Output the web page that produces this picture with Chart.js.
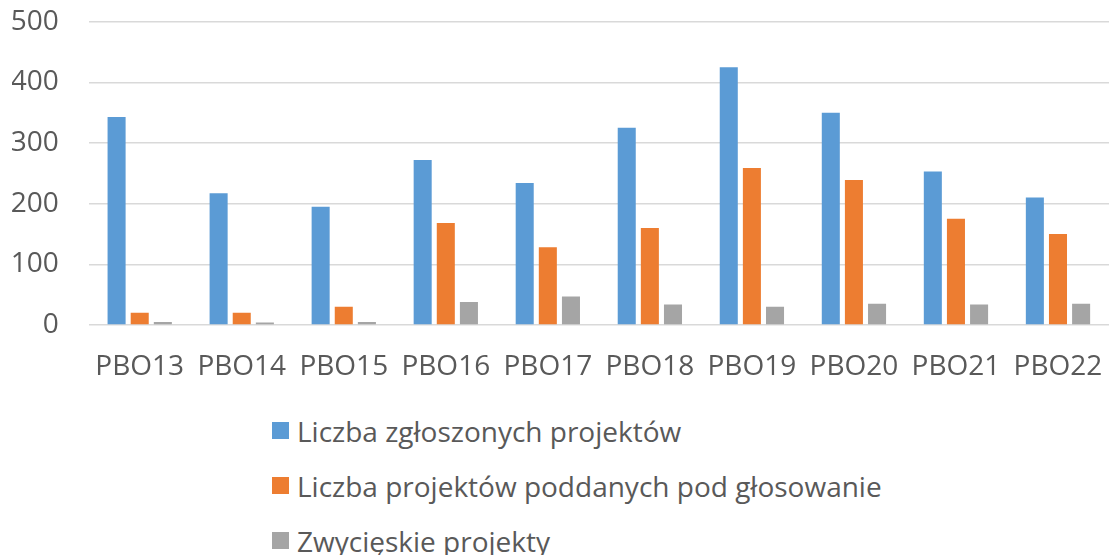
<!DOCTYPE html>
<html>
<head>
<meta charset="utf-8">
<script src="https://cdn.jsdelivr.net/npm/chart.js@4"></script>
<style>
    html, body { margin: 0; padding: 0; background: #ffffff; }
    #wrap { position: relative; width: 1109px; height: 555px; overflow: hidden; }
    #chart-box { position: absolute; left: 0; top: 0; width: 1109px; height: 385px; }
    #legend { position: absolute; left: 272px; top: 403px; font-family: "Open Sans", sans-serif; font-size: 28px; color: #595959; }
    #legend .item { display: flex; align-items: center; height: 55px; white-space: nowrap; }
    #legend .box { width: 17px; height: 17px; margin-right: 8px; }
</style>
</head>
<body>
<div id="wrap">
    <div id="chart-box"><canvas id="graph"></canvas></div>
    <div id="legend"></div>
</div>
<script>
// ========================== Data ==========================
const categories = ["PBO13", "PBO14", "PBO15", "PBO16", "PBO17", "PBO18", "PBO19", "PBO20", "PBO21", "PBO22"];
const submitted = [343, 217, 195, 272, 234, 325, 425, 350, 253, 210];
const putToVote = [20, 20, 30, 168, 128, 160, 259, 239, 175, 150];
const winners = [5, 4, 5, 38, 47, 34, 30, 35, 34, 35];
const seriesNames = ["Liczba zgłoszonych projektów", "Liczba projektów poddanych pod głosowanie", "Zwycięskie projekty"];
const seriesColors = ["#5b9bd5", "#ed7d31", "#a5a5a5"];

// ========================== Chart ==========================
const ctx = document.getElementById("graph").getContext("2d");
const tickFont = { family: "'Open Sans', sans-serif", size: 28 };

const chart = new Chart(ctx, {
    type: "bar",
    data: {
        labels: categories,
        datasets: [
            { label: seriesNames[0], data: submitted, backgroundColor: seriesColors[0] },
            { label: seriesNames[1], data: putToVote, backgroundColor: seriesColors[1] },
            { label: seriesNames[2], data: winners, backgroundColor: seriesColors[2] }
        ]
    },
    options: {
        responsive: true,
        maintainAspectRatio: false,
        animation: false,
        categoryPercentage: 0.68,
        barPercentage: 0.78,
        layout: { padding: { top: 0, left: 12, right: 0, bottom: 0 } },
        plugins: {
            legend: { display: false },
            tooltip: { enabled: false }
        },
        scales: {
            x: {
                grid: { display: false, drawTicks: false },
                border: { display: false },
                ticks: { font: tickFont, color: "#595959", padding: 25, maxRotation: 0, autoSkip: false },
                afterFit: (scale) => {
                    // fixed axis height, no side padding for the end labels
                    scale.height = 60;
                    scale.paddingLeft = 0;
                    scale.paddingRight = 0;
                }
            },
            y: {
                min: 0,
                max: 500,
                grid: { color: "#d9d9d9", lineWidth: 1.5, drawTicks: false },
                border: { display: false },
                ticks: { stepSize: 100, font: tickFont, color: "#595959", padding: 30 },
                afterFit: (scale) => {
                    scale.width = 76.7;
                    scale.paddingTop = 21.7;
                    scale.paddingBottom = 0;
                }
            }
        }
    }
});

// ========================== Legend (vertical list) ==========================
const legend = document.getElementById("legend");
chart.data.datasets.forEach((ds) => {
    const item = document.createElement("div");
    item.className = "item";
    item.innerHTML = `<span class="box" style="background:${ds.backgroundColor}"></span><span>${ds.label}</span>`;
    legend.appendChild(item);
});
</script>
</body>
</html>
